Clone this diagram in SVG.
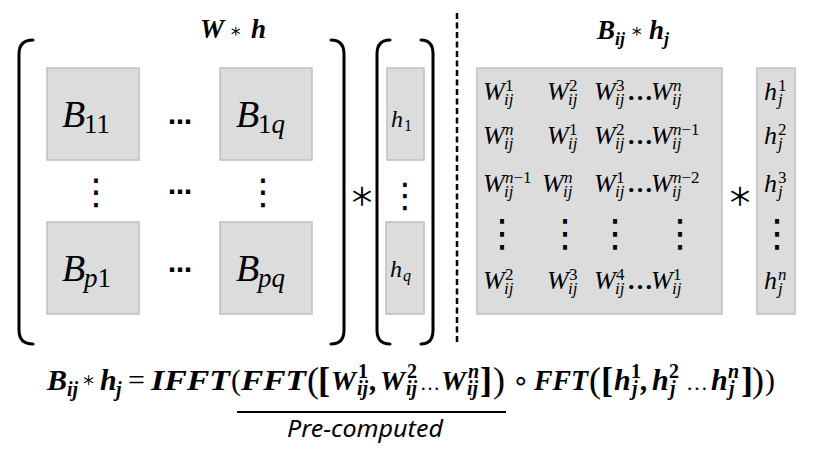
<svg xmlns="http://www.w3.org/2000/svg" width="822" height="463" viewBox="0 0 822 463">
<style>
.m{font-family:"Liberation Serif",serif;font-style:italic;fill:#000}
.mb{font-family:"Liberation Serif",serif;font-style:italic;font-weight:bold;fill:#000}
.u{font-family:"Liberation Serif",serif;font-style:normal;fill:#000}
.ub{font-family:"Liberation Serif",serif;font-style:normal;font-weight:bold;fill:#000}
.d{font-family:"DejaVu Sans",sans-serif;font-weight:bold;fill:#000}
.v{font-family:"DejaVu Sans",sans-serif;fill:#000}
.ast{font-family:"DejaVu Sans",sans-serif;font-weight:200;fill:#000;stroke:#000;stroke-width:0.8}
.box{fill:#dcdcdc;stroke:#bfbfbf;stroke-width:1.5}
.br{fill:none;stroke:#000;stroke-width:3;stroke-linecap:round}
.big{font-size:38px}
.bsub{font-size:27px}
.w{font-size:26px}
.s{font-size:17px}
.f{font-size:30px}
.fw{font-size:28px}
.fs{font-size:20px}
</style>
<rect width="822" height="463" fill="#fff"/>

<g id="left-title">
<text class="mb" font-size="27" x="200" y="38">W</text>
<text class="ast" font-size="19" x="230" y="37" style="stroke-width:0.4">∗</text>
<text class="mb" font-size="27" x="251" y="38">h</text>
</g>

<g id="brackets">
<path class="br" d="M33,40 Q19,40 19,54 V330 Q19,344 33,344"/>
<path class="br" d="M331,40 Q344,40 344,54 V330 Q344,344 331,344"/>
<path class="br" d="M390,40 Q377,40 377,54 V330 Q377,344 390,344"/>
<path class="br" d="M421,40 Q433,40 433,54 V330 Q433,344 421,344"/>
</g>

<g id="B11">
<rect class="box" x="47" y="68" width="92" height="92"/>
<text class="m big" x="62" y="127">B</text><text class="u bsub" x="84" y="133">11</text>
</g>
<g id="B1q">
<rect class="box" x="220" y="68" width="92" height="92"/>
<text class="m big" x="236" y="127">B</text><text class="u bsub" x="258" y="133">1<tspan class="m">q</tspan></text>
</g>
<g id="Bp1">
<rect class="box" x="47" y="222" width="92" height="92"/>
<text class="m big" x="62" y="281">B</text><text class="u bsub" x="84" y="287"><tspan class="m">p</tspan>1</text>
</g>
<g id="Bpq">
<rect class="box" x="220" y="222" width="92" height="92"/>
<text class="m big" x="236" y="281">B</text><text class="m bsub" x="258" y="287">pq</text>
</g>
<g id="block-dots">
<text class="d" font-size="24" x="180" y="130" text-anchor="middle">⋯</text>
<text class="d" font-size="24" x="180" y="200" text-anchor="middle">⋯</text>
<text class="d" font-size="24" x="180" y="278" text-anchor="middle">⋯</text>
<text class="v" font-size="36" x="96" y="204" text-anchor="middle">⋮</text>
<text class="v" font-size="36" x="263" y="204" text-anchor="middle">⋮</text>
</g>

<g id="times1"><text class="ast" font-size="40" x="362" y="209" text-anchor="middle">∗</text></g>

<g id="h1">
<rect class="box" x="387" y="68" width="37" height="92"/>
<text class="m" font-size="24" x="391" y="127">h</text><text class="u" font-size="16" x="404" y="131">1</text>
</g>
<g id="hdots"><text class="v" font-size="34" x="405" y="207" text-anchor="middle">⋮</text></g>
<g id="hq">
<rect class="box" x="386" y="222" width="38" height="92"/>
<text class="m" font-size="24" x="390" y="277">h</text><text class="m" font-size="16" x="403" y="281">q</text>
</g>

<g id="divider"><line x1="457" y1="13" x2="457" y2="344" stroke="#000" stroke-width="2.5" stroke-dasharray="6 3.5"/></g>

<g id="right-title">
<text class="mb" font-size="27" x="597" y="39">B</text>
<text class="mb" font-size="18" x="615" y="45">ij</text>
<text class="ast" font-size="19" x="631" y="37" style="stroke-width:0.4">∗</text>
<text class="mb" font-size="27" x="649" y="39">h</text>
<text class="mb" font-size="18" x="664" y="45">j</text>
</g>

<g id="Bij">
<rect class="box" x="477" y="68" width="245" height="246"/>
<g class="m">
<text class="w" x="483" y="100">W</text><text class="u s" x="505" y="91">1</text><text class="s" x="504" y="105">ij</text>
<text class="w" x="547" y="100">W</text><text class="u s" x="569" y="91">2</text><text class="s" x="568" y="105">ij</text>
<text class="w" x="594" y="100">W</text><text class="u s" x="616" y="91">3</text><text class="s" x="615" y="105">ij</text>
<text class="ub w" x="627" y="100">…</text>
<text class="w" x="651" y="100">W</text><text class="s" x="673" y="91">n</text><text class="s" x="672" y="105">ij</text>

<text class="w" x="483" y="144">W</text><text class="s" x="505" y="135">n</text><text class="s" x="504" y="149">ij</text>
<text class="w" x="547" y="144">W</text><text class="u s" x="569" y="135">1</text><text class="s" x="568" y="149">ij</text>
<text class="w" x="594" y="144">W</text><text class="u s" x="616" y="135">2</text><text class="s" x="615" y="149">ij</text>
<text class="ub w" x="627" y="144">…</text>
<text class="w" x="651" y="144">W</text><text class="s" x="673" y="135">n<tspan class="u">−1</tspan></text><text class="s" x="672" y="149">ij</text>

<text class="w" x="483" y="192">W</text><text class="s" x="505" y="183">n<tspan class="u">−1</tspan></text><text class="s" x="504" y="197">ij</text>
<text class="w" x="542" y="192">W</text><text class="s" x="564" y="183">n</text><text class="s" x="563" y="197">ij</text>
<text class="w" x="594" y="192">W</text><text class="u s" x="616" y="183">1</text><text class="s" x="615" y="197">ij</text>
<text class="ub w" x="627" y="192">…</text>
<text class="w" x="651" y="192">W</text><text class="s" x="673" y="183">n<tspan class="u">−2</tspan></text><text class="s" x="672" y="197">ij</text>

<text class="w" x="483" y="289">W</text><text class="u s" x="505" y="280">2</text><text class="s" x="504" y="294">ij</text>
<text class="w" x="547" y="289">W</text><text class="u s" x="569" y="280">3</text><text class="s" x="568" y="294">ij</text>
<text class="w" x="594" y="289">W</text><text class="u s" x="616" y="280">4</text><text class="s" x="615" y="294">ij</text>
<text class="ub w" x="627" y="289">…</text>
<text class="w" x="651" y="289">W</text><text class="u s" x="673" y="280">1</text><text class="s" x="672" y="294">ij</text>
</g>
<text class="v" font-size="38" x="502" y="246" text-anchor="middle">⋮</text>
<text class="v" font-size="38" x="565" y="246" text-anchor="middle">⋮</text>
<text class="v" font-size="38" x="615" y="246" text-anchor="middle">⋮</text>
<text class="v" font-size="38" x="680" y="246" text-anchor="middle">⋮</text>
</g>

<g id="times2"><text class="ast" font-size="40" x="740" y="209" text-anchor="middle">∗</text></g>

<g id="hj">
<rect class="box" x="757" y="68" width="38" height="246"/>
<g class="m">
<text class="w" x="764" y="100">h</text><text class="u s" x="778" y="91">1</text><text class="s" x="778" y="105">j</text>
<text class="w" x="764" y="144">h</text><text class="u s" x="778" y="135">2</text><text class="s" x="778" y="149">j</text>
<text class="w" x="764" y="192">h</text><text class="u s" x="778" y="183">3</text><text class="s" x="778" y="197">j</text>
<text class="w" x="764" y="289">h</text><text class="s" x="778" y="280">n</text><text class="s" x="778" y="294">j</text>
</g>
<text class="v" font-size="38" x="777" y="246" text-anchor="middle">⋮</text>
</g>

<g id="formula">
<text class="mb f" x="47" y="390">B</text><text class="mb fs" x="67" y="396">ij</text>
<text class="ast" font-size="21" x="82" y="387" style="stroke-width:0.4">∗</text>
<text class="mb f" x="100" y="390">h</text><text class="mb fs" x="116" y="396">j</text>
<text class="u f" x="128" y="390">=</text>
<text class="mb f" x="151" y="390" textLength="79" lengthAdjust="spacingAndGlyphs">IFFT</text>
<text class="u f" x="231" y="390">(</text>
<text class="mb f" x="241" y="390" textLength="65" lengthAdjust="spacingAndGlyphs">FFT</text>
<text class="u" font-size="36" x="307" y="392">(</text>
<text class="ub" font-size="36" x="318" y="392">[</text>
<text class="mb fw" x="331" y="390">W</text><text class="ub fs" x="358" y="378">1</text><text class="mb fs" x="357" y="395">ij</text>
<text class="mb f" x="370" y="390">,</text>
<text class="mb fw" x="380" y="390">W</text><text class="ub fs" x="407" y="378">2</text><text class="mb fs" x="406" y="395">ij</text>
<text class="u" font-size="20" x="420" y="390">…</text>
<text class="mb fw" x="441" y="390">W</text><text class="mb fs" x="468" y="378">n</text><text class="mb fs" x="467" y="395">ij</text>
<text class="ub" font-size="36" x="480" y="392">]</text>
<text class="u" font-size="36" x="493" y="392">)</text>
<text class="v" font-size="28" x="512" y="390">∘</text>
<text class="mb f" x="534" y="390" textLength="54" lengthAdjust="spacingAndGlyphs">FFT</text>
<text class="u" font-size="36" x="589" y="392">(</text>
<text class="ub" font-size="36" x="601" y="392">[</text>
<text class="mb f" x="614" y="390">h</text><text class="ub fs" x="631" y="378">1</text><text class="mb fs" x="632" y="395">j</text>
<text class="mb f" x="641" y="390">,</text>
<text class="mb f" x="652" y="390">h</text><text class="ub fs" x="669" y="378">2</text><text class="mb fs" x="670" y="395">j</text>
<text class="u" font-size="22" x="686" y="390">…</text>
<text class="mb f" x="711" y="390">h</text><text class="mb fs" x="728" y="378">n</text><text class="mb fs" x="729" y="395">j</text>
<text class="ub" font-size="36" x="741" y="392">]</text>
<text class="u" font-size="36" x="752" y="392">)</text>
<text class="u f" x="765" y="390">)</text>
<line x1="237" y1="412" x2="506" y2="412" stroke="#000" stroke-width="2"/>
<text font-family="'Noto Sans',sans-serif" font-style="italic" font-size="23" x="287" y="437" textLength="156" lengthAdjust="spacingAndGlyphs">Pre-computed</text>
</g>
</svg>
